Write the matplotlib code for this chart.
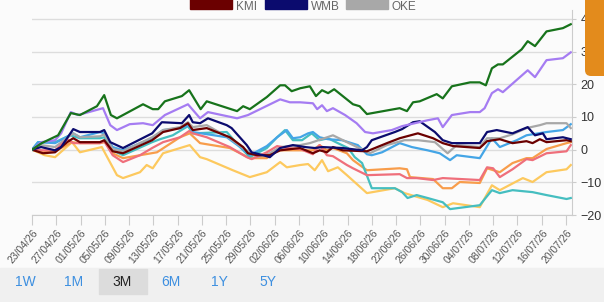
# ── 1. Packages ───────────────────────────────────────────────────────────────
import matplotlib
matplotlib.use("Agg")
import matplotlib.pyplot as plt
import pandas as pd
from matplotlib.patches import Rectangle, FancyBboxPatch
from matplotlib.transforms import IdentityTransform

plt.rcParams["font.family"] = ["Liberation Sans", "DejaVu Sans"]

# ── 2. Data (performance in %, x = days since 23/04/26) ─────────────────────
start_date = "2026-04-23"
tick_step_days = 4

green_d = [0, 1.6, 4.3, 6.4, 7.9, 10.7, 11.9, 13, 14, 18.3, 19.9, 20.8, 21.9, 24.7, 25.9,
           27.8, 28.8, 33.8, 34.8, 35.9, 38.7, 40.9, 41.7, 42.8, 44.2, 45.8, 46.8, 47.8,
           48.8, 49.8, 52.9, 54, 55.2, 60.6, 61.8, 62.8, 63.9, 66.7, 67.7, 69.2, 72.2,
           73.8, 74.8, 75.8, 76.8, 77.6, 80.7, 81.7, 82.9, 84.8, 87.5, 88.8]
green_v = [0, 2.0, 4.4, 11.2, 10.6, 13.3, 16.7, 10.6, 9.6, 13.9, 12.4, 12.4, 14.8, 16.4, 18.2,
           12.4, 14.8, 11.8, 13.3, 12.4, 16.1, 19.7, 19.7, 17.9, 18.8, 19.4, 16.4, 18.2,
           17.3, 18.5, 13.9, 13.3, 10.9, 12.7, 11.8, 14.5, 14.8, 17.0, 15.7, 19.4, 20.6,
           20.6, 19.7, 24.9, 26.1, 26.1, 30.7, 33.2, 31.7, 36.2, 37.2, 38.4]

purple_d = [0, 1.5, 3.8, 4.8, 6.4, 7.6, 11.7, 12.9, 14, 16.1, 18.3, 19.9, 21.9, 25.7, 27.7,
            29, 33.8, 35.6, 40.9, 42.5, 44.2, 46.3, 47, 47.8, 48.6, 49.6, 51.6, 53.5, 54.9,
            56.2, 59.3, 61, 63.1, 65.2, 66.9, 67.7, 69.2, 72.2, 73.8, 74.6, 75.8, 76.8,
            77.6, 81.7, 82.9, 84.8, 87.5, 88.8]
purple_v = [0, 2.3, 2.9, 5.0, 11.5, 10.6, 12.7, 7.5, 6.0, 7.8, 8.1, 7.5, 10.6, 13.9, 9.6,
            11.5, 9.6, 10.6, 15.4, 14.5, 14.5, 14.2, 12.4, 13.6, 11.8, 12.7, 10.6, 8.1, 5.4,
            5.0, 6.0, 7.2, 8.1, 9.0, 9.6, 6.9, 10.6, 11.5, 11.5, 12.7, 17.3, 18.5,
            17.6, 24.3, 22.2, 27.4, 28.0, 29.8]

wmb_d = [0, 1.5, 3.8, 4.8, 6.8, 7.9, 11.2, 11.9, 12.9, 15, 19.8, 21.4, 24.7, 25.9, 26.5,
         27.7, 29, 32.1, 32.9, 35.4, 36.2, 38.1, 39.2, 40.9, 43, 45, 46.6, 47.8, 51.2, 54.4,
         55.2, 56, 59.8, 61, 62.8, 63.9, 66.4, 67.7, 69.2, 73.8, 75, 76.6, 79.2, 81.7,
         82.9, 84.2, 84.8, 87.5, 88.8]
wmb_v = [0, 0.8, -0.2, 0.8, 6.3, 5.4, 5.4, 6.0, 2.3, 0.5, 5.0, 8.4, 8.1, 10.6, 8.4,
         8.1, 9.6, 7.5, 6.6, 1.4, -0.8, -1.7, -2.3, 0.5, 1.4, 0.8, 0.5, 0.8, 0.5, -0.2,
         0.8, 2.9, 5.4, 6.3, 8.4, 8.7, 5.4, 2.9, 2.0, 2.0, 5.4, 6.0, 5.0, 6.9,
         4.4, 5.0, 3.2, 3.8, 3.2]

kmi_d = [0, 1.8, 3.8, 5.8, 6.8, 7.9, 11.2, 11.9, 13.3, 15, 19.8, 21.6, 24.4, 25.7, 26.5,
         28.8, 32.6, 34.8, 35.6, 37.1, 39.2, 40.9, 44.2, 46.3, 47.4, 48.6, 49.6, 51.2,
         55.2, 58.5, 60.6, 63.6, 66.1, 67.7, 69.4, 73.8, 75, 77.1, 79.2, 81.5, 82.5,
         83.7, 84.8, 88.1, 88.8]
kmi_v = [0, -1.1, -0.8, 2.3, 3.5, 2.3, 2.3, 2.9, -0.5, -1.1, 2.9, 5.4, 6.6, 8.1, 6.0,
         6.6, 3.8, 0.8, -1.1, -1.7, -1.7, -0.2, 0.5, -1.1, -0.2, -0.8, 0.8, -0.2,
         -0.5, 2.0, 3.5, 5.0, 3.5, 2.0, 1.1, 0.5, 2.6, 3.2, 2.0, 2.6, 2.0,
         3.2, 2.3, 2.9, 2.6]

oke_d = [0, 1.5, 3.8, 6.8, 7.9, 11.2, 11.9, 13.3, 15, 19.8, 21.6, 24.4, 25.7, 26.5, 28.8,
         32.6, 34.8, 37.1, 39.2, 40.9, 44.2, 45.8, 49.6, 52.9, 55.7, 58.5, 61.4, 63.6,
         66.4, 68.5, 70, 73.8, 75, 77.1, 79.2, 81.5, 83.7, 84.8, 88.1, 88.8]
oke_v = [0, 1.4, 0.8, 5.0, 3.8, 4.1, 4.7, 0.2, -0.5, 3.8, 6.0, 6.9, 8.4, 6.9, 7.5,
         3.5, 0.5, -2.3, -1.1, 0.8, 1.4, 2.0, 4.4, 1.4, -1.1, 1.4, 2.9, 2.9,
         2.3, -1.1, 1.4, 0.8, 3.5, 3.5, 4.7, 6.6, 7.5, 8.1, 8.1, 6.6]

blue_d = [0, 1, 3.8, 6.8, 7.9, 11.2, 11.9, 13.3, 15, 19.8, 21.6, 24.4, 25.9, 26.5, 32.1,
          34.3, 35.9, 38.7, 40.4, 42, 43, 44.2, 45.5, 46.3, 47.4, 48.8, 51.1, 53.7, 55.2,
          56, 57.7, 60.6, 62.6, 65.2, 67.2, 68.9, 70, 73.8, 75.8, 77.1, 79.9, 81.5,
          84.8, 87.5, 88.8]
blue_v = [0, 2.3, 2.0, 5.0, 3.8, 5.4, 5.0, 0.8, -0.2, 3.5, 6.0, 6.6, 7.5, 5.4, 3.8,
          0.8, -1.7, 1.1, 3.8, 6.0, 3.5, 3.8, 5.0, 5.4, 3.8, 3.2, 2.9, 1.4, -1.4,
          -1.7, -0.8, 2.0, 0.8, -0.2, -1.1, -3.2, -1.7, -2.6, 3.5, 0.8, 2.9, 4.4,
          5.4, 6.0, 7.8]

teal_d = [0, 1, 3.8, 6.3, 7.9, 11.2, 11.9, 13.3, 15, 19.8, 21.1, 23.2, 25.7, 26.5, 32.1,
          34.3, 35.9, 38.7, 40.4, 41.7, 43, 44.5, 46.1, 47.4, 48.8, 50.4, 52.1, 53.2, 54.4,
          56, 59.8, 61, 61.9, 63.4, 65.2, 67.7, 68.9, 73.8, 75.8, 77.1, 79.2, 82.5,
          84.8, 88.1, 88.8]
teal_v = [0, 2.3, 2.3, 4.4, 3.5, 3.5, 3.8, -0.2, -1.7, 2.3, 3.2, 4.4, 7.2, 5.0, 5.4,
          0.8, -2.3, 0.5, 3.8, 6.0, 2.9, 2.9, 5.0, 2.9, 3.5, 2.0, 0.5, -2.3, -4.1,
          -11.8, -11.8, -13.0, -14.8, -13.9, -14.8, -16.1, -18.2, -17.0, -12.4, -13.3, -12.4, -13.0,
          -13.9, -15.1, -14.8]

orange_d = [0, 1.8, 3.8, 6.6, 7.9, 11.2, 12, 13.3, 15, 17.8, 20.6, 24.4, 26, 27.7, 32.6,
            35.9, 38.7, 40.4, 44.2, 46.3, 47.4, 48.6, 49.6, 51.9, 52.9, 55.2, 60.6, 61.8,
            62.3, 66.1, 67.7, 69.2, 70.5, 73.8, 75, 77.1, 79.2, 81.5, 82.5, 84.8, 88.1, 88.8]
orange_v = [0, -0.8, -0.5, 2.3, 2.0, 2.0, 2.3, -1.1, -2.6, -1.7, -0.8, 3.8, 5.0, 2.0, 0.5,
            -2.6, -2.6, -0.2, -0.2, -0.2, 1.4, -0.2, 0.5, -1.1, -3.2, -6.3, -5.7, -6.0,
            -8.4, -9.0, -11.8, -11.8, -9.9, -10.2, -5.7, -6.9, -4.1, -2.6, -2.6, 0.2, 2.0, 2.3]

pink_d = [0, 1.8, 3.8, 5.8, 6.8, 11.2, 11.9, 13.3, 15, 17.8, 19.8, 21.6, 24.4, 25.9, 26.5,
          28.8, 32.6, 35.4, 36.2, 38.7, 40.4, 42, 44.2, 46.3, 47.4, 48.6, 49.6, 51.9, 52.9,
          55.2, 60.6, 61.8, 63.4, 66.1, 67.7, 73.8, 75, 76, 77.1, 79.2, 81.5, 82.5,
          84.8, 88.1, 88.8]
pink_v = [0, -0.2, -0.2, 3.2, 2.0, 2.0, 2.6, -1.7, -3.8, -1.7, 0.5, 2.3, 3.8, 5.7, 5.0,
          3.8, 0.8, -2.3, -2.9, -0.8, 1.1, 0.5, 0.2, -1.4, 1.4, -1.7, -2.0, -4.7, -5.7,
          -7.8, -7.5, -8.7, -8.7, -9.3, -8.7, -9.3, -5.4, -5.7, -8.4, -6.0, -2.9, -3.2,
          -1.1, -0.5, 1.4]

yellow_d = [0, 2.1, 3.8, 6.6, 7.9, 11.5, 14, 15, 17.8, 18.9, 19.9, 21.6, 26, 27.7, 28.8,
            33.1, 35.9, 38.7, 40.9, 42, 44.2, 45.5, 46.6, 47.8, 48.8, 50.4, 51.9, 55.2,
            59.8, 61.4, 65.2, 67.7, 69.4, 73.8, 75.8, 77.1, 80.9, 82.5, 84.8, 88.1, 88.8]
yellow_v = [0, -1.7, -2.3, 2.3, -0.8, 0.8, -7.8, -8.7, -6.9, -4.7, -5.7, -1.1, 1.4, -2.3, -2.9,
            -6.3, -8.4, -6.9, -3.8, -5.4, -4.7, -4.4, -6.3, -3.2, -6.6, -5.4, -7.8, -13.3,
            -11.8, -13.3, -15.4, -17.6, -16.4, -17.6, -10.9, -12.4, -8.7, -9.9, -6.9, -6.0, -4.7]

# ── 3. Figure and axes ────────────────────────────────────────────────────────
W, H = 604, 302
fig = plt.figure(figsize=(W / 100, H / 100), dpi=100, facecolor="#fbfbfb")
ax = fig.add_axes([32 / W, (H - 215) / H, 540 / W, 205 / H])
ax.set_facecolor("#fbfbfb")

# draw order: bottom first
series = [
    (yellow_d, yellow_v, "#fdc95e"),
    (orange_d, orange_v, "#f89d4b"),
    (teal_d, teal_v, "#45bec0"),
    (blue_d, blue_v, "#44a5e6"),
    (oke_d, oke_v, "#a8a8a8"),
    (pink_d, pink_v, "#ef6f7b"),
    (kmi_d, kmi_v, "#6b0000"),
    (wmb_d, wmb_v, "#0b0b6e"),
    (purple_d, purple_v, "#a57cf2"),
    (green_d, green_v, "#17731b"),
]
for d, v, c in series:
    ax.plot(d, v, color=c, lw=1.6, solid_joinstyle="round")

ax.set_xlim(0, 89)
ax.set_ylim(-20, 40 + 9 / 3.267)

# y axis on the right
ax.yaxis.tick_right()
ax.set_yticks(range(-20, 41, 10))
ax.tick_params(axis="y", length=3, color="#cccccc", labelsize=9,
               labelcolor="#333333", pad=3)
ax.grid(axis="y", color="#dddddd", lw=1)

# x ticks every 4 days, labels dd/mm/yy
t0 = pd.Timestamp(start_date)
xt = list(range(0, 89, tick_step_days))
xl = [(t0 + pd.Timedelta(days=d)).strftime("%d/%m/%y") for d in xt]
ax.set_xticks(xt)
ax.set_xticklabels(xl, rotation=50, ha="right", rotation_mode="anchor",
                   fontsize=7.5, color="#555555")
ax.tick_params(axis="x", length=7, color="#cccccc", pad=2)

for s in ["left", "top"]:
    ax.spines[s].set_visible(False)
ax.spines["bottom"].set_color("#cccccc")
ax.spines["right"].set_color("#cccccc")

# ── 4. Legend (sitting at the very top) ───────────────────────────────────────
legend_items = [("KMI", "#6b0000", 190), ("WMB", "#0b0b6e", 265), ("OKE", "#a8a8a8", 346)]
for name, c, x0 in legend_items:
    fig.add_artist(Rectangle((x0 / W, (H - 9) / H), 42 / W, 12 / H,
                             transform=fig.transFigure, color=c))
    fig.text((x0 + 46) / W, (H - 10) / H, name, fontsize=8.5, color="#666666",
             va="baseline", ha="left")

# orange side tab
fig.add_artist(FancyBboxPatch((585, H - 76), 40, 90,
                              boxstyle="round,pad=0,rounding_size=6",
                              transform=IdentityTransform(),
                              facecolor="#e38b1c", edgecolor="none", zorder=5))

# ── 5. Period buttons strip ───────────────────────────────────────────────────
fig.add_artist(Rectangle((0, 0), 1, 34 / H, transform=fig.transFigure,
                         color="#f0f0f0", zorder=0))
fig.add_artist(Rectangle((99 / W, 8 / H), 48 / W, 25 / H, transform=fig.transFigure,
                         color="#dcdcdc", zorder=1))
buttons = ["1W", "1M", "3M", "6M", "1Y", "5Y"]
for i, b in enumerate(buttons):
    fig.text((25 + i * 48.5) / W, 20 / H, b, fontsize=10, ha="center", va="center",
             color="#222222" if b == "3M" else "#3d8fe0", zorder=2)

fig.savefig("out.png", dpi=100, facecolor=fig.get_facecolor())
